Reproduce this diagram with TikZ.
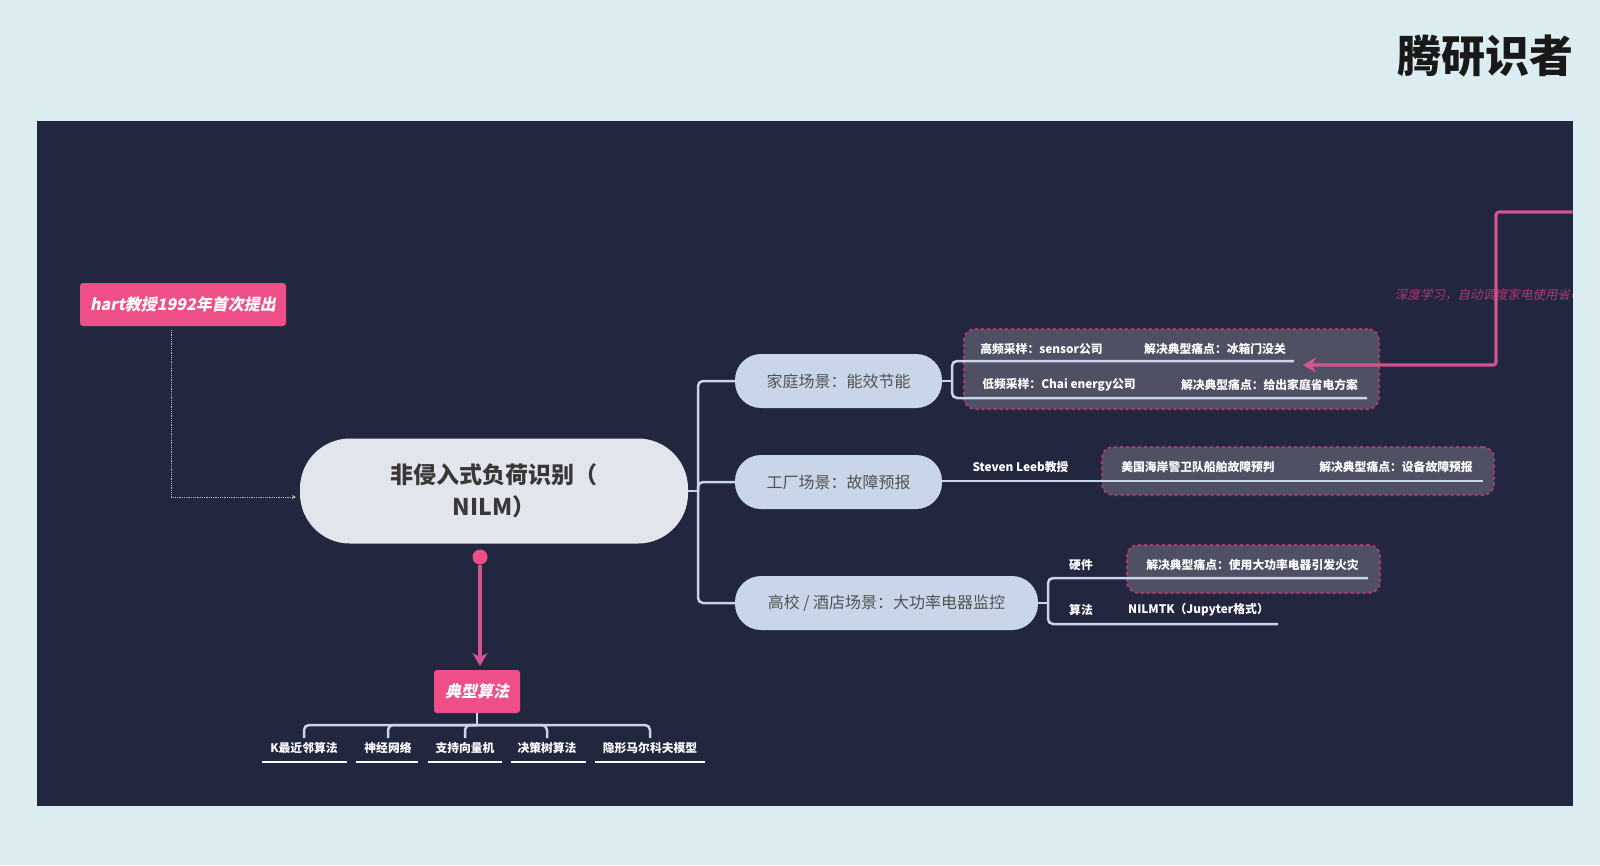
\documentclass[tikz,border=0pt]{standalone}
\usepackage{fontspec}
\setmainfont{Noto Sans CJK SC}
\newfontfamily\cjkslant[FakeSlant=0.2]{Noto Sans CJK SC}
\usetikzlibrary{arrows.meta}
\definecolor{pagebg}{HTML}{DCEDF2}
\definecolor{panelbg}{HTML}{22263F}
\definecolor{hotpink}{HTML}{EE4F86}
\definecolor{softpink}{HTML}{D2558F}
\definecolor{linkcol}{HTML}{C9D6EA}
\definecolor{rootcol}{HTML}{E2E6EC}
\definecolor{notebg}{HTML}{505064}
\definecolor{noteedge}{HTML}{A83A72}
\tikzset{
	rootpill/.style={fill=rootcol,text=black!78,rounded corners=50pt,minimum width=388pt,minimum height=105pt,align=center,inner sep=0pt,font=\bfseries\fontsize{23}{32}\selectfont},
	scenepill/.style={fill=linkcol,text=black!68,rounded corners=26pt,minimum height=54pt,inner sep=0pt,font=\fontsize{16}{18}\selectfont},
	tagbox/.style={fill=hotpink,text=white,rounded corners=3pt,inner sep=0pt,font=\cjkslant\bfseries\fontsize{16}{18}\selectfont},
	notebox/.style={fill=notebg,draw=noteedge,line width=2pt,dashed,rounded corners=11pt},
	leaf/.style={text=white,inner sep=0pt,font=\bfseries\fontsize{11.8}{14}\selectfont},
	link/.style={draw=linkcol,line width=2.5pt,rounded corners=5pt},
	pinklink/.style={draw=softpink,line width=3.2pt,rounded corners=3pt}
}
\begin{document}
\begin{tikzpicture}[x=1pt,y=-1pt,>={Stealth[length=13pt,width=15pt]}]
	\useasboundingbox[fill=pagebg](0,0) rectangle (1600,865);
	\fill[panelbg](36.5,120.5) rectangle (1572.5,806);
	\node[font=\bfseries\fontsize{44}{50}\selectfont,text=black!90,inner sep=0pt] (brand) at (1485,56) {腾研识者};
	% notes behind the rows
	\node[notebox,minimum width=415pt,minimum height=80pt] (homenote) at (1171.5,369) {};
	\node[notebox,minimum width=392pt,minimum height=48pt] (factorynote) at (1298,471) {};
	\node[notebox,minimum width=253pt,minimum height=48pt] (campusnote) at (1253.5,569) {};
	% centre and scenes
	\node[rootpill] (root) at (494,491) {非侵入式负荷识别（\\NILM）};
	\node[scenepill,minimum width=207pt] (home) at (838.5,381) {家庭场景：能效节能};
	\node[scenepill,minimum width=207pt] (factory) at (838.5,482) {工厂场景：故障预报};
	\node[scenepill,minimum width=303pt] (campus) at (886.5,603) {高校 / 酒店场景：大功率电器监控};
	\coordinate (fork) at (698,491);
	\draw[link](root.east)--(fork);
	\draw[link](fork)|-(home.west);
	\draw[link](fork)|-(factory.west);
	\draw[link](fork)|-(campus.west);
	% home rows
	\coordinate (homefork) at (952,381);
	\coordinate (hometop) at (1294,361);
	\coordinate (homelow) at (1367,398);
	\draw[link](home.east)--(homefork);
	\draw[link](homefork)|-(hometop);
	\draw[link](homefork)|-(homelow);
	\node[leaf] (hometopa) at (1041.5,349) {高频采样：sensor公司};
	\node[leaf] (hometopb) at (1215,349) {解决典型痛点：冰箱门没关};
	\node[leaf] (homelowa) at (1059,385) {低频采样：Chai energy公司};
	\node[leaf] (homelowb) at (1269.5,385) {解决典型痛点：给出家庭省电方案};
	% factory row
	\coordinate (factoryend) at (1483,481);
	\draw[link](factory.east|-factoryend)--(factoryend);
	\node[leaf] (steven) at (1020.5,467) {Steven Leeb教授};
	\node[leaf] (factorya) at (1198,467) {美国海岸警卫队船舶故障预判};
	\node[leaf] (factoryb) at (1396,467) {解决典型痛点：设备故障预报};
	% campus rows
	\coordinate (campusfork) at (1048,603);
	\coordinate (campustop) at (1368,578);
	\coordinate (campuslow) at (1278,624);
	\draw[link](campus.east)--(campusfork);
	\draw[link](campusfork)|-(campustop);
	\draw[link](campusfork)|-(campuslow);
	\node[leaf] (hardware) at (1081,565) {硬件};
	\node[leaf] (method) at (1081,610) {算法};
	\node[leaf] (campusa) at (1252.5,565) {解决典型痛点：使用大功率电器引发火灾};
	\node[leaf] (nilmtk) at (1198.5,610) {NILMTK（Jupyter格式）};
	% tags
	\node[tagbox,minimum width=206pt,minimum height=43pt] (hart) at (183,304.5) {hart教授1992年首次提出};
	\coordinate (hartout) at (171,330);
	\coordinate (rootin) at (296,497);
	\draw[gray!55,line width=.8pt,densely dotted,-{Stealth[length=4pt,width=4pt]}](hartout)|-(rootin);
	\node[tagbox,minimum width=86pt,minimum height=43pt] (algo) at (477,691.5) {典型算法};
	\node[circle,fill=hotpink,minimum size=15pt,inner sep=0pt] (algodot) at (480,557) {};
	\coordinate (algoin) at (480,666);
	\draw[pinklink,->](algodot)--(algoin);
	% algorithm leaves
	\coordinate (bus) at (477,725);
	\draw[link](algo.south)--(bus);
	\foreach \p/\a/\b/\n/\t in {304/262/347/knn/K最近邻算法, 388/356/418/nn/神经网络, 465/428/502/svm/支持向量机, 547/511/586/tree/决策树算法, 650/595/705/hmm/隐形马尔科夫模型}{
		\node[leaf] (\n) at (\p,748) {\t};
		\coordinate (\n a) at (\a,762);
		\coordinate (\n b) at (\b,762);
		\draw[draw=white,line width=2pt](\n a)--(\n b);
		\draw[link](bus)-|(\p,738);
	}
	% faint label and arrow from the right edge
	\begin{scope}
		\clip(36.5,120.5) rectangle (1572.5,806);
		\node[anchor=west,text=noteedge,inner sep=0pt,font=\cjkslant\fontsize{12.5}{15}\selectfont] (deep) at (1395,295) {深度学习，自动调度家电使用省电};
	\end{scope}
	\coordinate (edge) at (1572.5,212);
	\coordinate (bend) at (1496,365);
	\coordinate (tip) at (1303,365);
	\draw[pinklink,->](edge)-|(bend)--(tip);
\end{tikzpicture}
\end{document}
